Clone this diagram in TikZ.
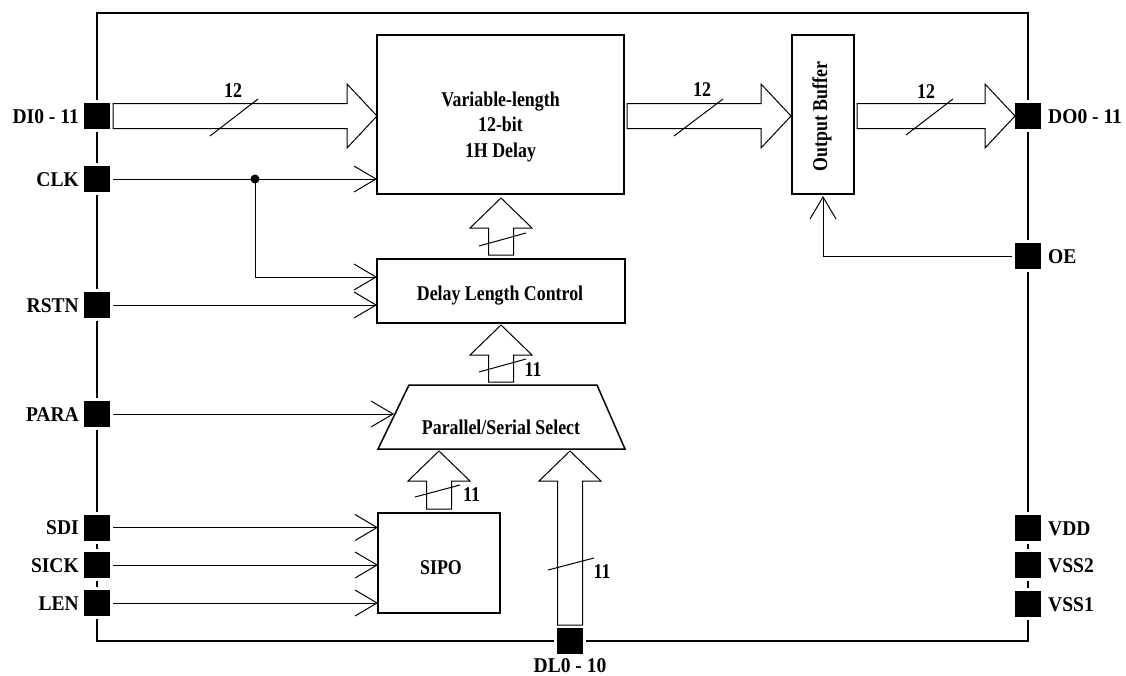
\documentclass[tikz,border=0pt]{standalone}
\usepackage{fontspec}
\newfontfamily\labfont[FakeStretch=0.85]{Liberation Serif}
\newfontfamily\pinfont[FakeStretch=0.93]{Liberation Serif}
\usetikzlibrary{arrows.meta,calc}
\newcommand{\busright}[2]{\draw[bus] let \p1=(#1), \p2=(#2) in
 (\x1,\y1+12.5pt) -- (\x2-30pt,\y1+12.5pt) -- (\x2-30pt,\y1+32pt) -- (\x2,\y1)
 -- (\x2-30pt,\y1-32pt) -- (\x2-30pt,\y1-12.5pt) -- (\x1,\y1-12.5pt) -- cycle;}
\newcommand{\busup}[2]{\draw[bus] let \p1=(#1), \p2=(#2) in
 (\x1-12.5pt,\y1) -- (\x1-12.5pt,\y2-30pt) -- (\x1-31pt,\y2-30pt) -- (\x1,\y2)
 -- (\x1+31pt,\y2-30pt) -- (\x1+12.5pt,\y2-30pt) -- (\x1+12.5pt,\y1) -- cycle;}
\begin{document}
\begin{tikzpicture}[x=1pt,y=-1pt,
  txt/.style={font=\labfont\bfseries\fontsize{21}{25}\selectfont, inner sep=0pt, text height=14pt, text depth=0pt},
  pintxt/.style={font=\pinfont\bfseries\fontsize{21}{25}\selectfont, inner sep=0pt, text height=14pt, text depth=0pt},
  pinbox/.style={rectangle, fill=black, draw=white, line width=3pt, minimum size=29pt, inner sep=0pt, outer sep=1.5pt},
  block/.style={draw, line width=1.5pt, inner sep=0pt, outer sep=0pt},
  sig/.style={line width=1pt, -{Straight Barb[length=22pt,width=26pt]}},
  bus/.style={line width=1pt, line join=miter},
  slash/.style={line width=1pt}]
\useasboundingbox (0,0) rectangle (1126,675);
% outer package
\draw[line width=2pt] (97,13) rectangle (1028,641);
% pins
\node[pinbox] (pDI) at (97,116) {};
\node[pinbox] (pCLK) at (97,179) {};
\node[pinbox] (pRSTN) at (97,305) {};
\node[pinbox] (pPARA) at (97,414) {};
\node[pinbox] (pSDI) at (97,527.5) {};
\node[pinbox] (pSICK) at (97,565) {};
\node[pinbox] (pLEN) at (97,603) {};
\node[pinbox] (pDO) at (1028,116) {};
\node[pinbox] (pOE) at (1028,256) {};
\node[pinbox] (pVDD) at (1028,528) {};
\node[pinbox] (pVSS2) at (1028,565) {};
\node[pinbox] (pVSS1) at (1028,604) {};
\node[pinbox] (pDL) at (570,641) {};
% pin labels
\node[pintxt, anchor=east] (lDI) at (79,116) {DI0 - 11};
\node[pintxt, anchor=east] (lCLK) at (79,179) {CLK};
\node[pintxt, anchor=east] (lRSTN) at (79,305) {RSTN};
\node[pintxt, anchor=east] (lPARA) at (79,414) {PARA};
\node[pintxt, anchor=east] (lSDI) at (79,527.5) {SDI};
\node[pintxt, anchor=east] (lSICK) at (79,565) {SICK};
\node[pintxt, anchor=east] (lLEN) at (79,603) {LEN};
\node[pintxt, anchor=west] (lDO) at (1048,116) {DO0 - 11};
\node[pintxt, anchor=west] (lOE) at (1048,256) {OE};
\node[pintxt, anchor=west] (lVDD) at (1048,528) {VDD};
\node[pintxt, anchor=west] (lVSS2) at (1048,565) {VSS2};
\node[pintxt, anchor=west] (lVSS1) at (1048,604) {VSS1};
\node[pintxt, anchor=north] (lDL) at (570,658) {DL0 - 10};
% blocks
\node[block, minimum width=247pt, minimum height=159pt] (delay) at (500.5,114.5) {};
\node[txt] (d1) at (500.5,99) {Variable-length};
\node[txt] (d2) at (500.5,124.5) {12-bit};
\node[txt] (d3) at (500.5,150) {1H Delay};
\node[block, minimum width=62pt, minimum height=159pt] (buf) at (823,114.5) {};
\node[txt, rotate=90] (buft) at (820,116.5) {Output Buffer};
\node[block, minimum width=248pt, minimum height=64pt] (dlc) at (501,291) {};
\node[txt] (dlct) at (500,293) {Delay Length Control};
\coordinate (tTL) at (409,385);
\coordinate (tTR) at (597,385);
\coordinate (tBR) at (625,449);
\coordinate (tBL) at (378,449);
\draw[line width=1.5pt, line join=miter] (tTL) -- (tTR) -- (tBR) -- (tBL) -- cycle;
\node[txt] (trapt) at (501,427) {Parallel/Serial Select};
\node[block, minimum width=122pt, minimum height=100pt] (sipo) at (439,563) {};
\node[txt] (sipot) at (441,567) {SIPO};
% bus coordinates
\coordinate (diS) at (pDI.east);
\coordinate (diT) at (delay.west);
\coordinate (dbS) at ($(delay.east |- pDI)+(3,0)$);
\coordinate (dbT) at ($(buf.west)+(-1,0)$);
\coordinate (boS) at ($(buf.east |- pDI)+(3,0)$);
\coordinate (boT) at ($(pDO.west)+(3,0)$);
\coordinate (cdS) at ($(dlc.north)+(0,-4)$);
\coordinate (cdT) at ($(delay.south)+(0,4)$);
\coordinate (tcS) at ($(dlc.south |- tTL)+(0,-3)$);
\coordinate (tcT) at ($(dlc.south)+(0,2)$);
\coordinate (stS) at ($(sipo.north)+(0,-4)$);
\coordinate (stT) at ($(sipo.north |- tBL)+(0,2)$);
\coordinate (dlS) at ($(pDL.north)+(0,0)$);
\coordinate (dlT) at ($(pDL |- tBL)+(0,2)$);
\busright{diS}{diT}
\busright{dbS}{dbT}
\busright{boS}{boT}
\busup{cdS}{cdT}
\busup{tcS}{tcT}
\busup{stS}{stT}
\busup{dlS}{dlT}
% bus slashes and widths
\draw[slash] (210,136) -- (258,99);
\node[txt] (w1) at (233,90) {12};
\draw[slash] (674,136) -- (723,99);
\node[txt] (w2) at (702,89) {12};
\draw[slash] (906,135) -- (953,99);
\node[txt] (w3) at (926,91) {12};
\draw[slash] (479,246) -- (526,233);
\draw[slash] (479,372) -- (526,359);
\node[txt] (w4) at (533,369) {11};
\draw[slash] (415,497) -- (460,485);
\node[txt] (w5) at (471.5,494) {11};
\draw[slash] (548,570) -- (594,558);
\node[txt] (w6) at (602,571.5) {11};
% control signals
\node[circle, fill=black, inner sep=0pt, minimum size=9pt] (dot) at (255,179) {};
\coordinate (clkT) at (delay.west |- pCLK);
\draw[sig] (pCLK.east) -- (clkT);
\coordinate (rstA) at (dlc.west |- 0,277);
\draw[sig] (dot.center) |- (rstA);
\draw[sig] (pRSTN.east) -- (dlc.west |- pRSTN);
\coordinate (paraT) at (394,414);
\draw[sig] (pPARA.east) -- (paraT);
\draw[sig] (pSDI.east) -- (sipo.west |- pSDI);
\draw[sig] (pSICK.east) -- (sipo.west |- pSICK);
\draw[sig] (pLEN.east) -- (sipo.west |- pLEN);
\coordinate (oeT) at ($(buf.south)+(0,2)$);
\draw[sig] (pOE.west) -| (oeT);
\end{tikzpicture}
\end{document}
